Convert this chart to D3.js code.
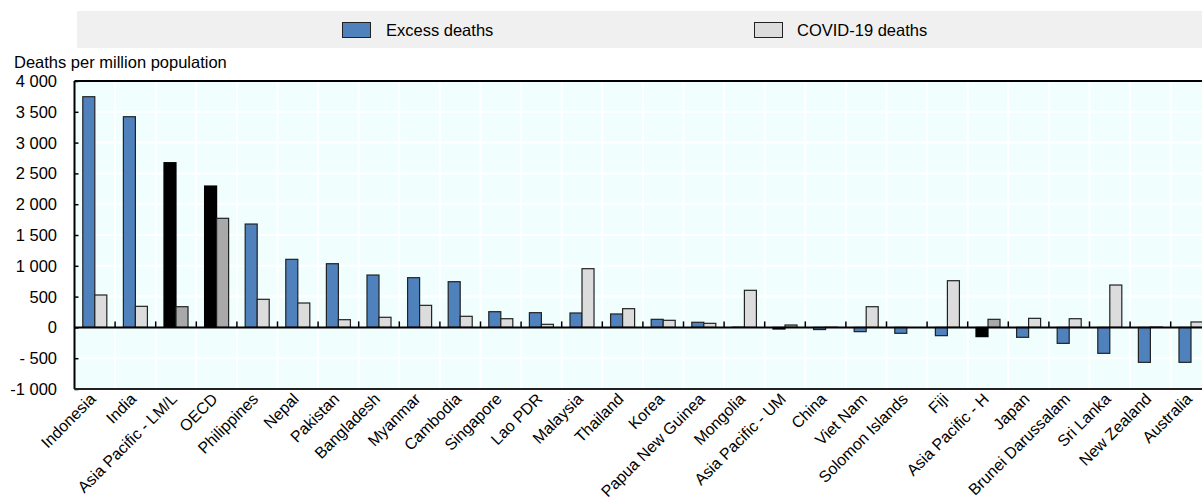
<!DOCTYPE html>
<html><head><meta charset="utf-8">
<script src="https://cdn.jsdelivr.net/npm/d3@7/dist/d3.min.js"></script>
<style>
body{margin:0;background:#fff}
svg text{font-family:"Liberation Sans",Arial,sans-serif;fill:#000}
</style></head>
<body><svg id="chart" width="1202" height="503"></svg>
<script>
const categories = ["Indonesia","India","Asia Pacific - LM/L","OECD","Philippines","Nepal","Pakistan","Bangladesh","Myanmar","Cambodia","Singapore","Lao PDR","Malaysia","Thailand","Korea","Papua New Guinea","Mongolia","Asia Pacific - UM","China","Viet Nam","Solomon Islands","Fiji","Asia Pacific - H","Japan","Brunei Darussalam","Sri Lanka","New Zealand","Australia"];
const excessDeaths = [3745,3420,2674,2295,1678,1105,1034,850,807,742,255,239,234,218,131,83,4,-26,-35,-69,-96,-134,-150,-161,-259,-421,-567,-567];
const covidDeaths  = [526,342,336,1771,456,396,125,164,358,180,141,50,953,304,115,66,602,39,3,336,0,758,131,147,141,688,5,88];
const highlighted = ["Asia Pacific - LM/L","OECD","Asia Pacific - UM","Asia Pacific - H"];
const seriesNames = ["Excess deaths","COVID-19 deaths"];
const yTickValues = [-1000,-500,0,500,1000,1500,2000,2500,3000,3500,4000];
const yTickLabels = ["-1 000","- 500","0","500","1 000","1 500","2 000","2 500","3 000","3 500","4 000"];
const yAxisTitle = "Deaths per million population";

const colors = {excess:"#4F81BD", covid:"#DCDCDC", excessHi:"#000000", covidHi:"#A9A9A9"};

const svg = d3.select("#chart");
const plot = {left:74.5, right:1211.3, top:81, bottom:389};

const x = d3.scaleBand().domain(categories).range([plot.left, plot.right]).padding(0);
const xs = d3.scaleBand().domain(["excess","covid"]).range([0, x.bandwidth()]).paddingInner(0).paddingOuter(0.69);
const y = d3.scaleLinear().domain([-1000,4000]).range([plot.bottom, plot.top]);

// legend band
svg.append("rect").attr("x",77).attr("y",11).attr("width",1125).attr("height",37).attr("fill","#F0F0F0");
const legendItems = [
  {name:seriesNames[0], fill:colors.excess, x:342, tx:386},
  {name:seriesNames[1], fill:colors.covid, x:754, tx:797}
];
legendItems.forEach(d=>{
  svg.append("rect").attr("x",d.x+0.5).attr("y",22.5).attr("width",28).attr("height",15)
    .attr("fill",d.fill).attr("stroke","#222").attr("stroke-width",1);
  svg.append("text").attr("x",d.tx).attr("y",36).attr("font-size",16.5).text(d.name);
});

// plot background
svg.append("rect").attr("x",plot.left).attr("y",plot.top).attr("width",plot.right-plot.left).attr("height",plot.bottom-plot.top).attr("fill","#F0FEFE");

// gridlines
const g = svg.append("g");
g.selectAll("line.h").data(yTickValues).join("line")
  .attr("x1",plot.left).attr("x2",plot.right).attr("y1",d=>y(d)).attr("y2",d=>y(d))
  .attr("stroke","#fff").attr("stroke-width",2);
g.selectAll("line.v").data(categories.slice(1)).join("line")
  .attr("x1",d=>x(d)).attr("x2",d=>x(d)).attr("y1",plot.top).attr("y2",plot.bottom)
  .attr("stroke","#fff").attr("stroke-width",2);

// bars
const bars = svg.append("g");
categories.forEach((c,i)=>{
  const hi = highlighted.includes(c);
  const vals = [{k:"excess",v:excessDeaths[i]},{k:"covid",v:covidDeaths[i]}];
  vals.forEach(d=>{
    const fill = d.k==="excess" ? (hi?colors.excessHi:colors.excess) : (hi?colors.covidHi:colors.covid);
    bars.append("rect")
      .attr("x", x(c)+xs(d.k))
      .attr("width", xs.bandwidth())
      .attr("y", y(Math.max(0,d.v)))
      .attr("height", Math.abs(y(d.v)-y(0)))
      .attr("fill", fill)
      .attr("stroke", (hi && d.k==="excess") ? "#000" : "#222")
      .attr("stroke-width", 1.2);
  });
});

// zero line with upward ticks at band boundaries
svg.append("line").attr("x1",plot.left).attr("x2",plot.right).attr("y1",y(0)).attr("y2",y(0)).attr("stroke","#000").attr("stroke-width",2);
svg.selectAll("line.xt").data(categories.slice(1)).join("line")
  .attr("x1",d=>x(d)).attr("x2",d=>x(d)).attr("y1",y(0)).attr("y2",y(0)-6)
  .attr("stroke","#000").attr("stroke-width",1.5);

// y axis ticks (inward) and labels
const yAxis = d3.axisLeft(y).tickValues(yTickValues).tickSize(-4).tickFormat("");
const ya = svg.append("g").attr("transform",`translate(${plot.left},0)`).call(yAxis);
ya.select(".domain").remove();
ya.selectAll(".tick line").attr("stroke","#000").attr("stroke-width",1.5);
svg.append("g").selectAll("text").data(yTickValues).join("text")
  .attr("x",57).attr("y",d=>y(d))
  .attr("dy","0.36em").attr("text-anchor","end").attr("font-size",16.5)
  .text((d,i)=>yTickLabels[i]);

// frame: left, top, bottom
svg.append("line").attr("x1",plot.left).attr("x2",plot.left).attr("y1",plot.top).attr("y2",plot.bottom).attr("stroke","#000").attr("stroke-width",2);
svg.append("line").attr("x1",plot.left).attr("x2",plot.right).attr("y1",plot.top).attr("y2",plot.top).attr("stroke","#000").attr("stroke-width",2);
svg.append("line").attr("x1",plot.left).attr("x2",plot.right).attr("y1",plot.bottom).attr("y2",plot.bottom).attr("stroke","#222").attr("stroke-width",2);

// x labels
svg.append("g").selectAll("text").data(categories).join("text")
  .attr("transform",d=>`translate(${x(d)+x.bandwidth()/2+2},${plot.bottom+11}) rotate(-45)`)
  .attr("text-anchor","end").attr("font-size",16).text(d=>d);

// y axis title
svg.append("text").attr("x",14).attr("y",68).attr("font-size",16.5).text(yAxisTitle);
</script>
</body></html>
